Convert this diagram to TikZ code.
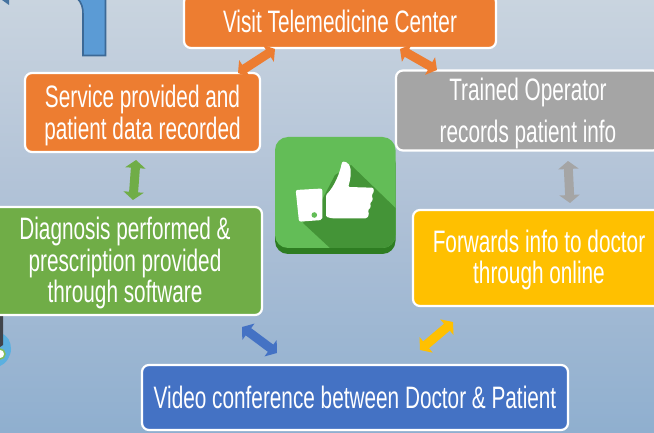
\documentclass[tikz,border=0pt]{standalone}
\usepackage{fontspec}
\usetikzlibrary{arrows.meta}
\newfontfamily\agency[FakeStretch=0.67]{Liberation Sans}
\definecolor{orangeb}{HTML}{ED7D31}
\definecolor{greyb}{HTML}{A5A5A5}
\definecolor{goldb}{HTML}{FFC000}
\definecolor{greenb}{HTML}{70AD47}
\definecolor{blueb}{HTML}{4472C4}
\definecolor{bgtop}{RGB}{201,212,223}
\definecolor{bgmid}{RGB}{174,192,214}
\definecolor{bgbot}{RGB}{143,175,207}
\definecolor{pipeline}{RGB}{60,105,150}
\definecolor{pipefill}{RGB}{91,155,213}
\definecolor{corner}{RGB}{70,115,160}
\definecolor{discb}{RGB}{91,176,224}
\definecolor{darkb}{RGB}{64,68,75}
\definecolor{ringg}{RGB}{130,190,90}
\definecolor{iconbase}{RGB}{46,125,34}
\definecolor{iconface}{RGB}{99,189,87}
\definecolor{iconshade}{RGB}{68,148,55}
\tikzset{
  stepbox/.style={draw=white,line width=2.2pt,rounded corners=7pt,text=white,align=center,
    font=\agency\fontsize{31}{31.5}\selectfont,inner sep=0pt},
  link/.style={line width=9pt,{Triangle[width=20pt,length=8pt]}-{Triangle[width=20pt,length=8pt]}},
}
\begin{document}
\begin{tikzpicture}[x=1pt,y=-1pt]
\useasboundingbox (0,0) rectangle (654,433);
\clip (0,0) rectangle (654,433);
\fill[top color=bgtop,bottom color=bgbot,middle color=bgmid] (0,0) rectangle (654,433);
% pipe fragment
\draw[draw=pipeline,line width=1.6pt,fill=pipefill] (77,-2) .. controls (82,3) and (83,8) .. (83,14) -- (83,55.5) -- (105.5,55.5) -- (105.5,-2) -- cycle;
\fill[corner] (2,0) -- (9,0) -- (9,5) -- cycle;
% bottom-left fragment
\fill[discb] (0,333) .. controls (8,335) and (11,342) .. (11,349) .. controls (11,356) and (6,364) .. (0,366) -- cycle;
\fill[darkb] (0,308) -- (3,312) -- (3,345) -- (0,347) -- cycle;
\draw[ringg,line width=1.5pt,fill=white] (0,354) circle (5);
% boxes
\node[stepbox,fill=orangeb,minimum width=312pt,minimum height=53pt] (visit) at (340,21.5) {Visit Telemedicine Center};
\node[stepbox,fill=orangeb,minimum width=235pt,minimum height=79pt] (service) at (142.5,112.5) {\rule{0pt}{28.6pt}Service provided and\\patient data recorded};
\node[stepbox,fill=greyb,minimum width=264pt,minimum height=80pt] (operator) at (528,110.5) {\rule{0pt}{28.6pt}Trained Operator\\[10pt]records patient info};
\node[stepbox,fill=goldb,minimum width=252pt,minimum height=96pt] (forward) at (539,258) {\rule{0pt}{26.6pt}Forwards info to doctor\\through online};
\node[stepbox,fill=greenb,minimum width=274pt,minimum height=108pt] (diag) at (125,261) {\rule{0pt}{26.6pt}Diagnosis performed \&\\prescription provided\\through software};
\node[stepbox,fill=blueb,minimum width=426pt,minimum height=65pt] (video) at (355,397.5) {Video conference between Doctor \& Patient};
% centre icon
\fill[iconbase,rounded corners=13pt] (275,150) rectangle (395.5,254);
\fill[iconface,rounded corners=13pt] (275,137) rectangle (395.5,248);
\begin{scope}
\clip[rounded corners=13pt] (275,137) rectangle (395.5,248);
\fill[iconshade] (303,223) -- (330,248) -- (395.5,248) -- (395.5,208) -- (351,165) -- (335,175) -- (322,200) -- cycle;
\end{scope}
\fill[white,rounded corners=2pt] (295.7,190) -- (322.3,188.5) -- (322.3,220) -- (299,221.7) -- cycle;
\fill[iconface] (314.3,215) circle (2.8);
\fill[white,rounded corners=1.2pt] (326,195) .. controls (335,186) and (340,172) .. (341.7,163.3) .. controls (343,161) and (349,161) .. (350.7,170) .. controls (351,178) and (349,184) .. (348.3,187) -- (373.3,187.7) -- (374,191.7) -- (371.7,195) -- (373,200) -- (370,203) -- (371,207) -- (368,210) -- (369,215) -- (366.7,218.3) -- (331.7,218.3) -- (326,216.7) -- cycle;
% links
\coordinate (a1) at (238,73); \coordinate (a2) at (275,49);
\coordinate (b1) at (400,49); \coordinate (b2) at (437,70);
\coordinate (c1) at (568,161); \coordinate (c2) at (570,203);
\coordinate (d1) at (453,322); \coordinate (d2) at (420,350);
\coordinate (e1) at (242,327); \coordinate (e2) at (277,353);
\coordinate (f1) at (136,160); \coordinate (f2) at (133,200);
\draw[link,orangeb] (a1) -- (a2);
\draw[link,orangeb] (b1) -- (b2);
\draw[link,greyb] (c1) -- (c2);
\draw[link,goldb] (d1) -- (d2);
\draw[link,blueb] (e1) -- (e2);
\draw[link,greenb] (f1) -- (f2);
\end{tikzpicture}
\end{document}
